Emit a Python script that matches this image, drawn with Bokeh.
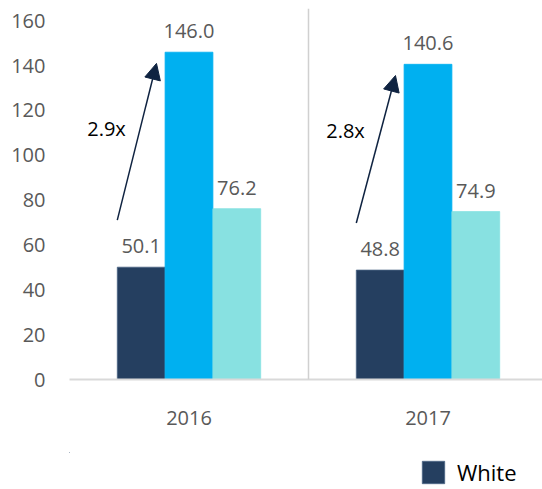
from bokeh.plotting import figure
from bokeh.layouts import column
from bokeh.models import (Range1d, FixedTicker, Span, Arrow, NormalHead, Legend,
                          LegendItem, ColumnDataSource, LabelSet)
from bokeh.core.properties import value
from bokeh.embed import file_html
from bokeh.resources import INLINE

categories = ["2016", "2017"]
white = [50.1, 48.8]
blue = [146.0, 140.6]
cyan = [76.2, 74.9]
ratio_labels = ["2.9x", "2.8x"]
y_ticks = [0, 20, 40, 60, 80, 100, 120, 140, 160]

NAVY = "#253F60"
BLUE = "#00B0F0"
CYAN = "#88E1E1"
GRAY = "#595959"
FONT = "Open Sans"

p = figure(width=542, height=452, output_backend="svg", toolbar_location=None,
           x_range=Range1d(0, 473 / 239), y_range=Range1d(0, 165.5),
           min_border_left=69, min_border_right=0, min_border_top=8,
           min_border_bottom=73)
p.outline_line_color = None
p.grid.grid_line_color = None
p.background_fill_color = "white"

idx = list(range(len(categories)))
centers = [i + 0.5 for i in idx]
bw = 0.2

series = [("White", white, NAVY, -bw), ("s2", blue, BLUE, 0.0), ("s3", cyan, CYAN, bw)]
sources = {}
for name, vals, col, off in series:
    src = ColumnDataSource(dict(x=[c + off for c in centers], top=vals,
                                lab=[f"{v:.1f}" for v in vals]))
    sources[name] = src
    p.vbar(x="x", top="top", width=bw, bottom=0, source=src, fill_color=col,
           line_color=col if name != "White" else "#4A6384", line_width=0.8)
    p.add_layout(LabelSet(x="x", y="top", text="lab", source=src, y_offset=14,
                          text_align="center", text_baseline="bottom",
                          text_font=value(FONT), text_font_size="20px",
                          text_color=GRAY))

# separator between categories
for i in idx[1:]:
    p.add_layout(Span(location=i, dimension="height", line_color="#D0D0D0",
                      line_width=1.5))

# growth arrows and ratio labels
for i in idx:
    x0 = i + 0.5 - bw * 1.5
    x1 = i + 0.5 - bw * 0.68
    p.add_layout(Arrow(end=NormalHead(size=16, fill_color="#0F2341", line_color="#0F2341"),
                       x_start=x0, y_start=white[i] + 21, x_end=x1, y_end=blue[i] - 5,
                       line_color="#0F2341", line_width=1.5))
rsrc = ColumnDataSource(dict(x=[i + 0.155 for i in idx], y=[112, 111], t=ratio_labels))
p.text(x="x", y="y", text="t", source=rsrc, text_align="center", text_baseline="middle",
       text_font=value(FONT), text_font_size="20px", text_color="#000000")

# axes
p.yaxis.ticker = FixedTicker(ticks=y_ticks)
p.yaxis.axis_line_color = None
p.yaxis.major_tick_line_color = None
p.yaxis.minor_tick_line_color = None
p.yaxis.major_tick_out = 0
p.yaxis.major_tick_in = 0
p.yaxis.major_label_standoff = 24
p.yaxis.major_label_text_font = FONT
p.yaxis.major_label_text_font_size = "20px"
p.yaxis.major_label_text_color = GRAY

p.xaxis.ticker = FixedTicker(ticks=centers)
p.xaxis.major_label_overrides = {c: categories[i] for i, c in enumerate(centers)}
p.xaxis.axis_line_color = "#D9D9D9"
p.xaxis.axis_line_width = 2
p.xaxis.major_tick_line_color = None
p.xaxis.minor_tick_line_color = None
p.xaxis.major_tick_out = 0
p.xaxis.major_tick_in = 0
p.xaxis.major_label_standoff = 31
p.xaxis.major_label_text_font = FONT
p.xaxis.major_label_text_font_size = "20px"
p.xaxis.major_label_text_color = GRAY

# legend strip below the chart (its frame aligns with the chart frame);
# the swatch renderer shares the White data but lies well outside this strip's view
lg = figure(width=542, height=37, output_backend="svg", toolbar_location=None,
            x_range=Range1d(50, 51), y_range=Range1d(-300, -299),
            min_border_left=69, min_border_right=0, min_border_top=0,
            min_border_bottom=0)
lg.xaxis.visible = False
lg.yaxis.visible = False
lg.grid.grid_line_color = None
lg.outline_line_color = None
swatch = lg.vbar(x="x", top="top", width=bw, bottom=0, source=sources["White"],
                 fill_color=NAVY, line_color="#4A6384", line_width=0.8)
legend = Legend(items=[LegendItem(label="White", renderers=[swatch])],
                orientation="horizontal", location=(350, 2),
                glyph_width=28, glyph_height=28, label_text_font=FONT,
                label_text_font_size="22px", label_text_color="#000000",
                border_line_color=None, background_fill_alpha=0, padding=0,
                margin=0, label_standoff=10)
lg.add_layout(legend, "center")

layout = column(p, lg, spacing=0)
open("out.html", "w").write(file_html(layout, INLINE))
